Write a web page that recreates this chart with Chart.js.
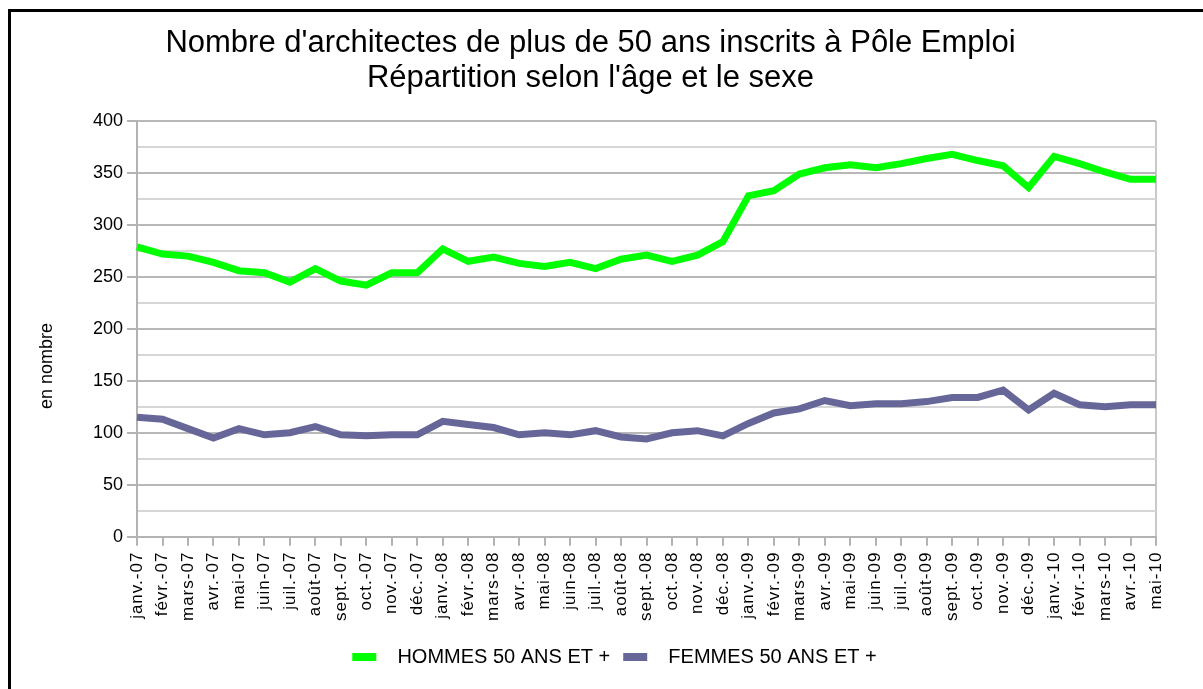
<!DOCTYPE html>
<html><head><meta charset="utf-8">
<script src="https://cdn.jsdelivr.net/npm/chart.js@4/dist/chart.umd.min.js"></script>
<style>
html,body{margin:0;padding:0;background:#fff;}
#wrap{position:relative;width:1203px;height:689px;overflow:hidden;background:#fff;}
#frame{position:absolute;left:8px;top:9px;width:1200px;height:700px;border-left:3px solid #000;border-top:3px solid #000;pointer-events:none;}
canvas{position:absolute;left:0;top:0;}
</style></head><body>
<div id="wrap"><canvas id="c" width="1203" height="689"></canvas><div id="frame"></div></div>
<script>
const months = ["janv.-07","févr.-07","mars-07","avr.-07","mai-07","juin-07","juil.-07","août-07","sept.-07","oct.-07","nov.-07","déc.-07",
"janv.-08","févr.-08","mars-08","avr.-08","mai-08","juin-08","juil.-08","août-08","sept.-08","oct.-08","nov.-08","déc.-08",
"janv.-09","févr.-09","mars-09","avr.-09","mai-09","juin-09","juil.-09","août-09","sept.-09","oct.-09","nov.-09","déc.-09",
"janv.-10","févr.-10","mars-10","avr.-10","mai-10"];
const hommes = [279,272,270,264,256,254,245,258,246,242,254,254,
277,265,269,263,260,264,258,267,271,265,271,284,
328,333,349,355,358,355,359,364,368,362,357,336,
366,359,351,344,344];
const femmes = [115,113,104,95,104,98,100,106,98,97,98,98,
111,108,105,98,100,98,102,96,94,100,102,97,
109,119,123,131,126,128,128,130,134,134,141,122,
138,127,125,127,127];
const titleLines = ["Nombre d'architectes de plus de 50 ans inscrits à Pôle Emploi","Répartition selon l'âge et le sexe"];
const seriesNames = ["HOMMES 50 ANS ET +","FEMMES 50 ANS ET +"];
const seriesColors = ["#00ff00","#666699"];
const yAxisTitle = "en nombre";

const FONT = "'Liberation Sans', Arial, sans-serif";
const shiftBoxes = {
  id:'shiftBoxes',
  afterLayout(chart, args, opts){
    if(chart.legend){ chart.legend.left += opts.legendDx; chart.legend.right += opts.legendDx; }
    if(chart.titleBlock){ chart.titleBlock.left += opts.titleDx; chart.titleBlock.right += opts.titleDx; }
  },
  afterDatasetsDraw(chart){ chart.ctx.letterSpacing = '1px'; },
  afterDraw(chart, args, opts){
    const ctx = chart.ctx;
    ctx.letterSpacing = '0px';
    ctx.save();
    ctx.translate(opts.yTitleX, opts.yTitleY);
    ctx.rotate(-Math.PI/2);
    ctx.font = "18px " + FONT;
    ctx.fillStyle = '#000';
    ctx.textAlign = 'center';
    ctx.textBaseline = 'middle';
    ctx.fillText(yAxisTitle, 0, 0);
    ctx.restore();
  }
};
new Chart(document.getElementById('c'), {
  type:'line',
  data:{
    labels: months,
    datasets:[
      {label:seriesNames[0], data:hommes, borderColor:seriesColors[0], backgroundColor:seriesColors[0], borderWidth:7, pointRadius:0, tension:0, fill:false},
      {label:seriesNames[1], data:femmes, borderColor:seriesColors[1], backgroundColor:seriesColors[1], borderWidth:7, pointRadius:0, tension:0, fill:false}
    ]
  },
  plugins:[shiftBoxes],
  options:{
    responsive:false, animation:false,
    layout:{padding:{left:89,right:47,top:26,bottom:12}},
    plugins:{
      shiftBoxes:{legendDx:-8, titleDx:-32, yTitleX:47, yTitleY:366},
      title:{display:true, text:titleLines, color:'#000', font:{family:FONT,size:31,weight:'normal',lineHeight:1.13}, padding:{top:0,bottom:25}},
      legend:{position:'bottom', labels:{color:'#000', font:{family:FONT,size:20}, boxWidth:24, boxHeight:8, padding:13,
        generateLabels(chart){ return Chart.defaults.plugins.legend.labels.generateLabels(chart).map(l=>{ l.lineWidth=0; l.strokeStyle='transparent'; l.text='  '+l.text; return l; }); }}},
      tooltip:{enabled:false}
    },
    scales:{
      x:{
        offset:false,
        afterFit(scale){ scale.height += 14; },
        grid:{drawOnChartArea:true, color:ctx=> ctx.index===months.length-1 ? '#c8c8c8' : 'rgba(0,0,0,0)', tickColor:'#b3b3b3', tickLength:9, lineWidth:2},
        border:{color:'#b3b3b3', width:2},
        ticks:{z:1, autoSkip:false, maxRotation:90, minRotation:90, color:'#000', font:{family:FONT,size:17}, padding:6}
      },
      y:{
        min:0, max:400,
        grid:{color:ctx=> (ctx.tick && ctx.tick.value%50===0) ? '#b8b8b8' : '#d6d6d6', tickColor:ctx=> (ctx.tick && ctx.tick.value%50===0) ? '#b3b3b3' : 'rgba(0,0,0,0)', tickLength:10, lineWidth:2},
        border:{color:'#b3b3b3', width:2},
        ticks:{stepSize:25, autoSkip:false, color:'#000', font:{family:FONT,size:18}, padding:4, callback:v=> v%50===0 ? v : ''}
      }
    }
  }
});
</script>
</body></html>
